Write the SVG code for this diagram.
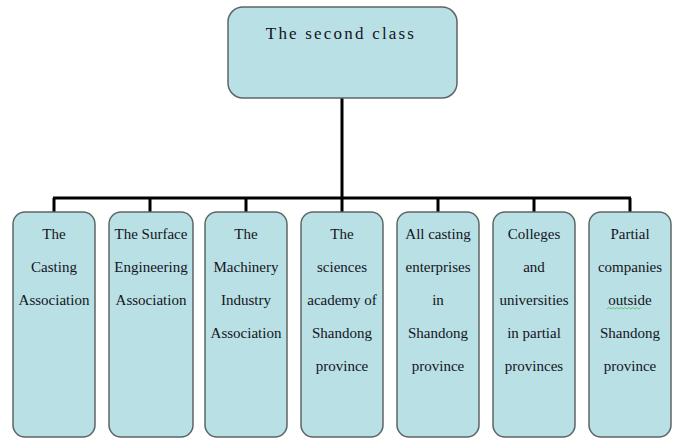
<svg xmlns="http://www.w3.org/2000/svg" width="680" height="438" viewBox="0 0 680 438">
<style>
.box{fill:#b9e0e4;stroke:#5d6666;stroke-width:1.5}
.t{font-family:"Liberation Serif","Times New Roman",serif;font-size:15px;fill:#14141e;text-anchor:middle}
.title{font-family:"Liberation Serif","Times New Roman",serif;font-size:17px;fill:#14141e;text-anchor:middle;letter-spacing:2.2px}
.c{fill:none;stroke:#000;stroke-width:3}
</style>
<rect x="0" y="0" width="680" height="438" fill="#fff"/>
<g id="connectors">
<path class="c" d="M342 98 V198 M53 198 H631 M54 198 V212 M150 198 V212 M246 198 V212 M342 198 V212 M438 198 V212 M534 198 V212 M630 198 V212"/>
</g>
<g id="root">
<rect class="box" x="228" y="7" width="229" height="91" rx="15"/>
<text class="title" x="341" y="39">The second class</text>
</g>
<g id="n1">
<rect class="box" x="13" y="212" width="82" height="225" rx="12"/>
<text class="t" x="54"><tspan x="54" y="239">The</tspan><tspan x="54" y="272">Casting</tspan><tspan x="54" y="305">Association</tspan></text>
</g>
<g id="n2">
<rect class="box" x="109" y="212" width="84" height="225" rx="12"/>
<text class="t" x="151"><tspan x="151" y="239">The Surface</tspan><tspan x="151" y="272">Engineering</tspan><tspan x="151" y="305">Association</tspan></text>
</g>
<g id="n3">
<rect class="box" x="205" y="212" width="82" height="225" rx="12"/>
<text class="t" x="246"><tspan x="246" y="239">The</tspan><tspan x="246" y="272">Machinery</tspan><tspan x="246" y="305">Industry</tspan><tspan x="246" y="338">Association</tspan></text>
</g>
<g id="n4">
<rect class="box" x="301" y="212" width="82" height="225" rx="12"/>
<text class="t" x="342"><tspan x="342" y="239">The</tspan><tspan x="342" y="272">sciences</tspan><tspan x="342" y="305">academy of</tspan><tspan x="342" y="338">Shandong</tspan><tspan x="342" y="371">province</tspan></text>
</g>
<g id="n5">
<rect class="box" x="397" y="212" width="82" height="225" rx="12"/>
<text class="t" x="438"><tspan x="438" y="239">All casting</tspan><tspan x="438" y="272">enterprises</tspan><tspan x="438" y="305">in</tspan><tspan x="438" y="338">Shandong</tspan><tspan x="438" y="371">province</tspan></text>
</g>
<g id="n6">
<rect class="box" x="493" y="212" width="82" height="225" rx="12"/>
<text class="t" x="534"><tspan x="534" y="239">Colleges</tspan><tspan x="534" y="272">and</tspan><tspan x="534" y="305">universities</tspan><tspan x="534" y="338">in partial</tspan><tspan x="534" y="371">provinces</tspan></text>
</g>
<g id="n7">
<rect class="box" x="589" y="212" width="82" height="225" rx="12"/>
<text class="t" x="630"><tspan x="630" y="239">Partial</tspan><tspan x="630" y="272">companies</tspan><tspan x="630" y="305">outside</tspan><tspan x="630" y="338">Shandong</tspan><tspan x="630" y="371">province</tspan></text>
<path d="M607 309 l2 -1.5 l2 1.5 l2 -1.5 l2 1.5 l2 -1.5 l2 1.5 l2 -1.5 l2 1.5 l2 -1.5 l2 1.5 l2 -1.5 l2 1.5 l2 -1.5 l2 1.5 l2 -1.5 l2 1.5 l2 -1.5" fill="none" stroke="#5cb85c" stroke-width="0.8"/>
</g>
</svg>
